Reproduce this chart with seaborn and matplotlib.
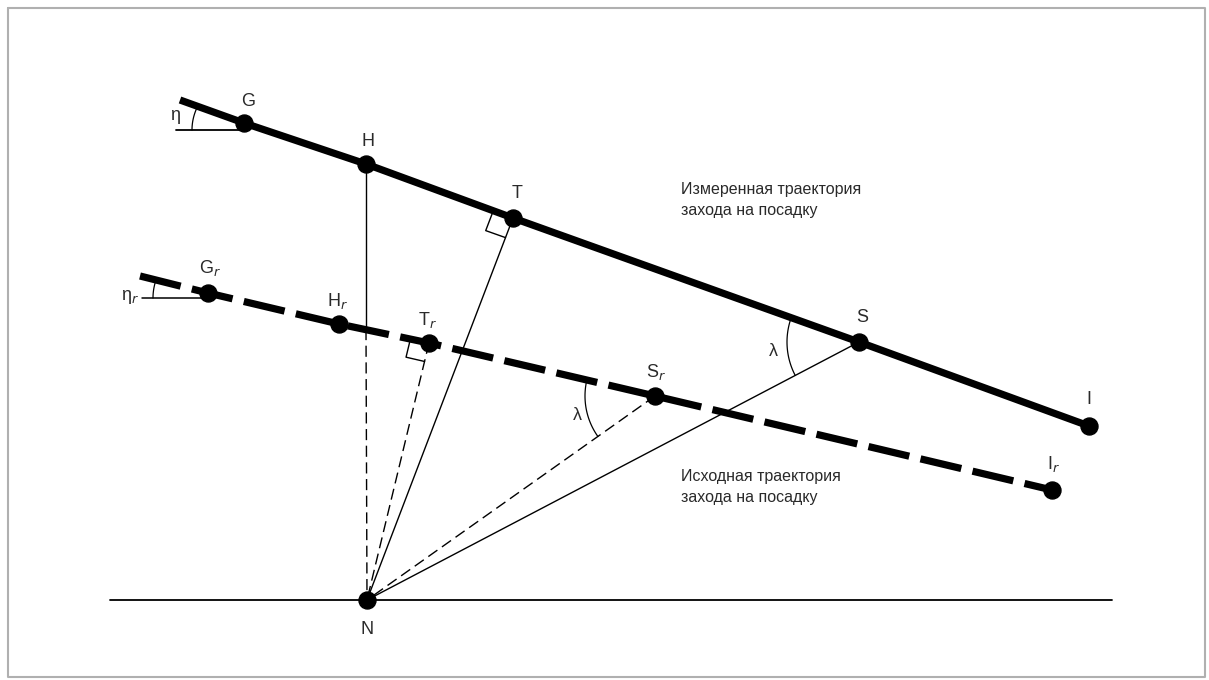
import numpy as np
import pandas as pd
import matplotlib
matplotlib.use("Agg")
import matplotlib.pyplot as plt
import seaborn as sns

# Points in picture coordinates (x to the right, y downwards)
meas_names = ["G", "H", "T", "S", "I"]
meas_x = [244, 366, 513, 859, 1089]
meas_y = [123, 164, 218, 342, 426]
meas_start = (180, 100)

ref_names = ["G$_r$", "H$_r$", "T$_r$", "S$_r$", "I$_r$"]
ref_x = [208, 339, 429, 655, 1052]
ref_y = [293, 324, 343, 396, 490]
ref_start = (140, 276)

n_x, n_y = 367, 600
ground_x = [110, 1112]

meas_label = "Измеренная траектория\nзахода на посадку"
ref_label = "Исходная траектория\nзахода на посадку"

sns.set_theme(style="white")
plt.rcParams['font.family'] = ['Liberation Sans', 'DejaVu Sans']

fig = plt.figure(figsize=(12.09, 6.8), dpi=100)
ax = fig.add_axes([0, 0, 1, 1])
ax.set_xlim(0, 1209)
ax.set_ylim(680, 0)
ax.axis("off")

# frame
ax.plot([8, 1205, 1205, 8, 8], [8, 8, 677, 677, 8], color="#b0b0b0", lw=1.5)

# trajectories
meas = pd.DataFrame({"x": [meas_start[0]] + meas_x, "y": [meas_start[1]] + meas_y})
ref = pd.DataFrame({"x": [ref_start[0]] + ref_x, "y": [ref_start[1]] + ref_y})
sns.lineplot(data=meas, x="x", y="y", sort=False, estimator=None, color="black",
             lw=5.2, ax=ax, solid_capstyle="butt")
sns.lineplot(data=ref, x="x", y="y", sort=False, estimator=None, color="black",
             lw=5.2, ax=ax, linestyle=(0, (5.8, 1.6)), dash_capstyle="butt")

# ground line
ax.plot(ground_x, [n_y, n_y], color="black", lw=1.3)

thin = dict(color="black", lw=1.0)
dash = dict(color="black", lw=1.0, linestyle=(0, (8, 4)))

# vertical from H: solid to the reference line, dashed below it
hx, hy = meas_x[1], meas_y[1]
k = (ref_y[-1] - ref_start[1]) / (ref_x[-1] - ref_start[0])
cy = ref_start[1] + k * (hx - ref_start[0])
ax.plot([hx, hx], [hy, cy], **thin)
ax.plot([hx, n_x], [cy, n_y], **dash)

# lines to N
ax.plot([meas_x[2], n_x], [meas_y[2], n_y], **thin)
ax.plot([meas_x[3], n_x], [meas_y[3], n_y], **thin)
ax.plot([ref_x[2], n_x], [ref_y[2], n_y], **dash)
ax.plot([ref_x[3], n_x], [ref_y[3], n_y], **dash)


def unit(p, q):
    d = np.array(q, float) - np.array(p, float)
    return d / np.hypot(*d)


def right_angle(p, back, s):
    u = unit(p, back)
    v = unit(p, (n_x, n_y))
    p = np.array(p, float)
    pts = np.array([p + u * s, p + u * s + v * s, p + v * s])
    ax.plot(pts[:, 0], pts[:, 1], **thin)


right_angle((meas_x[2], meas_y[2]), meas_start, 21)
right_angle((ref_x[2], ref_y[2]), ref_start, 19)


def arc(c, p1, p2, r):
    a1 = np.arctan2(p1[1] - c[1], p1[0] - c[0])
    a2 = np.arctan2(p2[1] - c[1], p2[0] - c[0])
    if a2 - a1 > np.pi:
        a2 -= 2 * np.pi
    if a1 - a2 > np.pi:
        a1 -= 2 * np.pi
    t = np.linspace(a1, a2, 40)
    ax.plot(c[0] + r * np.cos(t), c[1] + r * np.sin(t), color="black", lw=0.9)


# lambda arcs
arc((meas_x[3], meas_y[3]), meas_start, (n_x, n_y), 72)
arc((ref_x[3], ref_y[3]), ref_start, (n_x, n_y), 70)

# eta: horizontal reference and arc
ax.plot([176, meas_x[0]], [130, 130], color="black", lw=1.3)
arc((meas_x[0], 130), (0, 130), meas_start, 52)
ax.plot([142, ref_x[0]], [298, 298], color="black", lw=1.1)
arc((ref_x[0], 298), (0, 298), ref_start, 55)

# points
sns.scatterplot(x=meas_x + ref_x + [n_x], y=meas_y + ref_y + [n_y], s=150,
                color="black", edgecolor="black", ax=ax, zorder=5)

tc = "#2a2a2a"
fs = 13
meas_off = [(4, -22), (2, -22), (4, -25), (3, -24), (0, -26)]
for name, x, y, (dx, dy) in zip(meas_names, meas_x, meas_y, meas_off):
    ax.text(x + dx, y + dy, name, ha="center", va="center", fontsize=fs, color=tc)
ref_off = [(2, -25), (-1, -23), (-1, -23), (1, -24), (2, -26)]
for name, x, y, (dx, dy) in zip(ref_names, ref_x, ref_y, ref_off):
    ax.text(x + dx, y + dy, name, ha="center", va="center", fontsize=fs, color=tc)
ax.text(n_x, 629, "N", ha="center", va="center", fontsize=fs, color=tc)
ax.text(175, 115, "η", ha="center", va="center", fontsize=fs, color=tc)
ax.text(130, 297, "η$_r$", ha="center", va="center", fontsize=fs, color=tc)
ax.text(773, 352, "λ", ha="center", va="center", fontsize=fs, color=tc)
ax.text(577, 415, "λ", ha="center", va="center", fontsize=fs, color=tc)

ax.text(681, 200, meas_label, ha="left", va="center", fontsize=11.5, color=tc,
        linespacing=1.45)
ax.text(681, 487, ref_label, ha="left", va="center", fontsize=11.5, color=tc,
        linespacing=1.45)

fig.savefig("out.png", dpi=100)
